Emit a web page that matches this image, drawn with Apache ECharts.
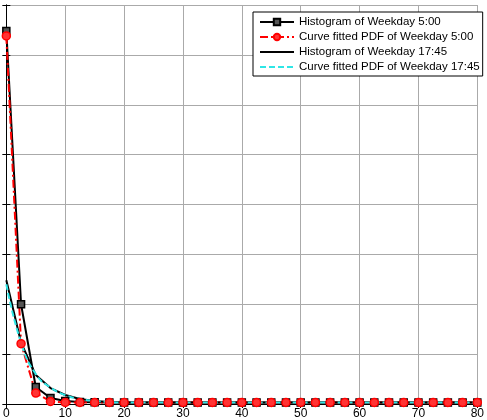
<!DOCTYPE html>
<html>
<head>
<meta charset="utf-8">
<script src="https://cdn.jsdelivr.net/npm/echarts@6/dist/echarts.min.js"></script>
<style>
html,body{margin:0;padding:0;background:#fff;}
#chart{width:487px;height:420px;}
</style>
</head>
<body>
<div id="chart"></div>
<script>
// x positions of the bins (step 2.5)
var xs = [];
for (var i = 0; i <= 32; i++) xs.push(i * 2.5);

var hist500 = [7.48, 2.0, 0.34, 0.12, 0.06, 0.04, 0.035, 0.03, 0.03, 0.03, 0.03, 0.03, 0.03, 0.03, 0.03, 0.03, 0.03,
	0.03, 0.03, 0.03, 0.03, 0.03, 0.03, 0.03, 0.03, 0.03, 0.03, 0.03, 0.03, 0.03, 0.03, 0.03, 0.03];
var fit500 = [7.38, 1.21, 0.22, 0.05, 0.03, 0.03, 0.03, 0.03, 0.03, 0.03, 0.03, 0.03, 0.03, 0.03, 0.03, 0.03, 0.03,
	0.03, 0.03, 0.03, 0.03, 0.03, 0.03, 0.03, 0.03, 0.03, 0.03, 0.03, 0.03, 0.03, 0.03, 0.03, 0.03];
var hist1745 = [2.48, 1.23, 0.58, 0.32, 0.18, 0.1, 0.06, 0.04, 0.03, 0.03, 0.03, 0.03, 0.03, 0.03, 0.03, 0.03, 0.03,
	0.03, 0.03, 0.03, 0.03, 0.03, 0.03, 0.03, 0.03, 0.03, 0.03, 0.03, 0.03, 0.03, 0.03, 0.03, 0.03];
var fit1745 = [2.40, 1.23, 0.60, 0.33, 0.18, 0.1, 0.06, 0.04, 0.03, 0.03, 0.03, 0.03, 0.03, 0.03, 0.03, 0.03, 0.03,
	0.03, 0.03, 0.03, 0.03, 0.03, 0.03, 0.03, 0.03, 0.03, 0.03, 0.03, 0.03, 0.03, 0.03, 0.03, 0.03];

var names = ['Histogram of Weekday 5:00', 'Curve fitted PDF of Weekday 5:00',
	'Histogram of Weekday 17:45', 'Curve fitted PDF of Weekday 17:45'];

function pairs(ys) {
	var out = [];
	for (var i = 0; i < ys.length; i++) out.push([xs[i], ys[i]]);
	return out;
}

var chart = echarts.init(document.getElementById('chart'));
var font = 'Liberation Sans, Arial, sans-serif';

var option = {
	animation: false,
	textStyle: {fontFamily: font},
	grid: {left: 3, right: 3, top: 5, bottom: 11, containLabel: false},
	legend: {
		orient: 'vertical',
		left: 253, top: 12,
		data: [
			{name: names[0]},
			{name: names[1]},
			{name: names[2], itemStyle: {opacity: 0}},
			{name: names[3], itemStyle: {opacity: 0}}
		],
		itemWidth: 34, itemHeight: 8, itemGap: 3,
		padding: [4, 3, 3, 6],
		backgroundColor: '#fff',
		borderColor: '#000', borderWidth: 1,
		textStyle: {fontSize: 11.5, color: '#000', fontFamily: font}
	},
	xAxis: [{
		type: 'value', min: 0, max: 80, interval: 10, position: 'bottom',
		axisLine: {lineStyle: {color: '#000'}},
		axisTick: {inside: true, length: 4, lineStyle: {color: '#000'}},
		axisLabel: {margin: 4, fontSize: 12, color: '#000', fontFamily: font},
		splitLine: {show: true, lineStyle: {color: '#aaa', width: 1}}
	}, {
		type: 'value', min: 0, max: 80, interval: 10, position: 'top',
		axisLine: {show: true, lineStyle: {color: '#000'}},
		axisTick: {show: true, inside: true, length: 4, lineStyle: {color: '#000'}},
		axisLabel: {show: false},
		splitLine: {show: false}
	}],
	yAxis: [{
		type: 'value', min: 0, max: 8, interval: 1, position: 'left',
		axisLine: {show: true, lineStyle: {color: '#000'}},
		axisTick: {show: true, inside: true, length: 4, lineStyle: {color: '#000'}},
		axisLabel: {show: false},
		splitLine: {show: true, lineStyle: {color: '#aaa', width: 1}}
	}, {
		type: 'value', min: 0, max: 8, interval: 1, position: 'right',
		axisLine: {show: true, lineStyle: {color: '#000'}},
		axisTick: {show: true, inside: true, length: 4, lineStyle: {color: '#000'}},
		axisLabel: {show: false},
		splitLine: {show: false}
	}],
	series: [{
		name: names[0], type: 'line', data: pairs(hist500),
		symbol: 'rect', symbolSize: 7,
		itemStyle: {color: '#555', borderColor: '#000', borderWidth: 1.5},
		lineStyle: {color: '#000', width: 2}
	}, {
		name: names[1], type: 'line', data: pairs(fit500),
		symbol: 'circle', symbolSize: 8,
		itemStyle: {color: '#f33', borderColor: '#f00', borderWidth: 1.5},
		lineStyle: {color: '#f00', width: 2, type: [8, 3, 2, 3]}
	}, {
		name: names[2], type: 'line', data: pairs(hist1745),
		symbol: 'none',
		itemStyle: {color: '#000'},
		lineStyle: {color: '#000', width: 2}
	}, {
		name: names[3], type: 'line', data: pairs(fit1745),
		symbol: 'none', smooth: true,
		itemStyle: {color: '#2ee6e6'},
		lineStyle: {color: '#2ee6e6', width: 2, type: [6, 3]}
	}]
};
chart.setOption(option);
</script>
</body>
</html>
